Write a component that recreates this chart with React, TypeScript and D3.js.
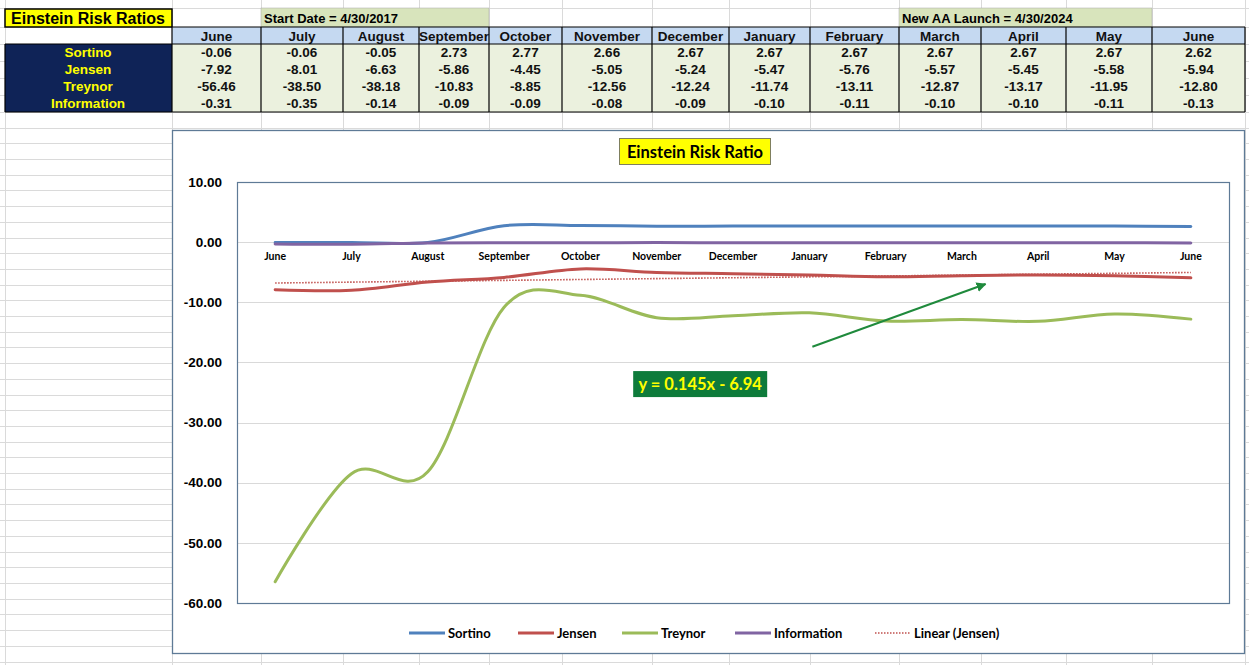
import React from 'react';
import * as d3 from 'd3';

// table + chart data
const months = ['June', 'July', 'August', 'September', 'October', 'November', 'December', 'January', 'February', 'March', 'April', 'May', 'June'];
const sortino = [-0.06, -0.06, -0.05, 2.73, 2.77, 2.66, 2.67, 2.67, 2.67, 2.67, 2.67, 2.67, 2.62];
const jensen = [-7.92, -8.01, -6.63, -5.86, -4.45, -5.05, -5.24, -5.47, -5.76, -5.57, -5.45, -5.58, -5.94];
const treynor = [-56.46, -38.5, -38.18, -10.83, -8.85, -12.56, -12.24, -11.74, -13.11, -12.87, -13.17, -11.95, -12.8];
const information = [-0.31, -0.35, -0.14, -0.09, -0.09, -0.08, -0.09, -0.1, -0.11, -0.1, -0.1, -0.11, -0.13];
const yTicks = [10, 0, -10, -20, -30, -40, -50, -60];

const seriesNames = ['Sortino', 'Jensen', 'Treynor', 'Information'];
const seriesValues = [sortino, jensen, treynor, information];
const seriesColors = ['#4F81BD', '#C0504D', '#9BBB59', '#8064A2'];

// spreadsheet layout
const colEdges = [5, 172, 261, 343, 419, 489, 562, 652, 729, 810, 899, 981, 1066, 1152, 1245];
const rowEdges = [8, 27, 44, 61, 78, 95, 112];

const tableFont = '"Liberation Sans", Arial, sans-serif';
const chartFont = 'Lato, "Open Sans", sans-serif';

// plot area
const plot = { left: 237, right: 1229, top: 182, bottom: 603 };

// annotation in data coordinates (category index, value)
const arrowFrom = [7.04, -17.4];
const arrowTo = [9.31, -6.97];
const eqPos = [5.57, -23.6];
const eqText = 'y = 0.145x - 6.94';

const App: React.FC = () => {
  const x = d3
    .scalePoint<number>()
    .domain(d3.range(months.length))
    .range([plot.left, plot.right])
    .padding(0.5);
  const xc = (i: number) => (x(0) as number) + i * x.step();
  const y = d3.scaleLinear().domain([-60, 10]).range([plot.bottom, plot.top]);

  const line = d3
    .line<number>()
    .x((_, i) => x(i) as number)
    .y((d) => y(d))
    .curve(d3.curveCatmullRom.alpha(0));

  // linear trend of Jensen
  const n = jensen.length;
  const xs = d3.range(1, n + 1);
  const mx = d3.mean(xs) as number;
  const my = d3.mean(jensen) as number;
  const slope =
    d3.sum(xs, (v, i) => (v - mx) * (jensen[i] - my)) / d3.sum(xs, (v) => (v - mx) * (v - mx));
  const intercept = my - slope * mx;
  const trend = xs.map((v) => slope * v + intercept);

  // spreadsheet gridlines
  const gridRows: number[] = [...rowEdges];
  for (let yy = 112 + 15.7; yy < 665; yy += 15.7) gridRows.push(yy);

  const legendItems = [
    { name: 'Sortino', color: seriesColors[0], x: 409, dash: '' },
    { name: 'Jensen', color: seriesColors[1], x: 518, dash: '' },
    { name: 'Treynor', color: seriesColors[2], x: 622, dash: '' },
    { name: 'Information', color: seriesColors[3], x: 735, dash: '' },
    { name: 'Linear (Jensen)', color: seriesColors[1], x: 875, dash: '1.5 1.5' },
  ];

  const ax0 = xc(arrowFrom[0]);
  const ay0 = y(arrowFrom[1]);
  const ax1 = xc(arrowTo[0]);
  const ay1 = y(arrowTo[1]);

  return (
    <svg
      width={1249}
      height={665}
      style={{ position: 'absolute', left: 0, top: 0, background: '#fff' }}
    >
      {/* sheet gridlines */}
      <g stroke="#DADADA" strokeWidth={1}>
        {gridRows.map((r, i) => (
          <line key={'r' + i} x1={0} x2={1249} y1={Math.round(r) + 0.5} y2={Math.round(r) + 0.5} />
        ))}
        {colEdges.map((c, i) => (
          <line key={'c' + i} x1={c + 0.5} x2={c + 0.5} y1={0} y2={665} />
        ))}
      </g>

      {/* title cells */}
      <rect x={5} y={9} width={167} height={18} fill="#FFFF00" stroke="#000" strokeWidth={1.5} />
      <text x={88} y={23.5} textAnchor="middle" fontFamily={tableFont} fontWeight="bold" fontSize={16}>
        Einstein Risk Ratios
      </text>
      <rect x={261} y={8} width={228} height={19} fill="#D8E4BC" stroke="#A6A6A6" strokeWidth={0.5} />
      <text x={264} y={22.5} fontFamily={tableFont} fontWeight="bold" fontSize={13}>
        Start Date = 4/30/2017
      </text>
      <rect x={899} y={8} width={253} height={19} fill="#D8E4BC" stroke="#A6A6A6" strokeWidth={0.5} />
      <text x={902} y={22.5} fontFamily={tableFont} fontWeight="bold" fontSize={13}>
        New AA Launch = 4/30/2024
      </text>

      {/* header row */}
      <rect x={172} y={27} width={1073} height={17} fill="#C5D9F1" />
      {/* data block */}
      <rect x={172} y={44} width={1073} height={68} fill="#EBF1DE" />
      <rect x={5} y={44} width={167} height={68} fill="#0F2357" />
      {months.map((m, i) => (
        <text
          key={'h' + i}
          x={(colEdges[i + 1] + colEdges[i + 2]) / 2}
          y={40.5}
          textAnchor="middle"
          fontFamily={tableFont}
          fontWeight="bold"
          fontSize={13.5}
          fill="#111"
        >
          {m}
        </text>
      ))}
      {seriesNames.map((s, r) => (
        <g key={'row' + r}>
          <text
            x={88}
            y={rowEdges[r + 2] + 13}
            textAnchor="middle"
            fontFamily={tableFont}
            fontWeight="bold"
            fontSize={13.5}
            fill="#FFFF00"
          >
            {s}
          </text>
          {seriesValues[r].map((v, i) => (
            <text
              key={i}
              x={(colEdges[i + 1] + colEdges[i + 2]) / 2}
              y={rowEdges[r + 2] + 13}
              textAnchor="middle"
              fontFamily={tableFont}
              fontWeight="bold"
              fontSize={13.5}
              fill="#111"
            >
              {v.toFixed(2)}
            </text>
          ))}
        </g>
      ))}
      <g stroke="#000" strokeWidth={1.2} fill="none">
        {colEdges.slice(1).map((c, i) => (
          <line key={i} x1={c} x2={c} y1={27} y2={112} />
        ))}
        <line x1={172} x2={1245} y1={27} y2={27} />
        <line x1={172} x2={1245} y1={44} y2={44} />
        <line x1={5} x2={1245} y1={112} y2={112} />
        <line x1={5} x2={5} y1={44} y2={112} />
        <line x1={5} x2={172} y1={44} y2={44} />
      </g>

      {/* chart frame */}
      <rect x={172.5} y={130.5} width={1072} height={523} fill="#fff" stroke="#5E7A96" strokeWidth={1.3} />

      {/* chart title */}
      <rect x={619.5} y={138.5} width={151} height={26} fill="#FFFF00" stroke="#7F7F5F" strokeWidth={1} />
      <text x={695} y={157.5} textAnchor="middle" fontFamily={chartFont} fontWeight="bold" fontSize={16.5}>
        Einstein Risk Ratio
      </text>

      {/* gridlines */}
      <g stroke="#D9D9D9" strokeWidth={1}>
        {yTicks
          .filter((t) => t !== 10 && t !== -60)
          .map((t) => (
            <line key={t} x1={plot.left} x2={plot.right} y1={Math.round(y(t)) + 0.5} y2={Math.round(y(t)) + 0.5} />
          ))}
      </g>
      <rect
        x={plot.left + 0.5}
        y={plot.top + 0.5}
        width={plot.right - plot.left}
        height={plot.bottom - plot.top}
        fill="none"
        stroke="#5E7A96"
        strokeWidth={1.2}
      />

      {/* y tick labels */}
      {yTicks.map((t) => (
        <text
          key={t}
          x={222}
          y={y(t)}
          dy="0.35em"
          textAnchor="end"
          fontFamily={tableFont}
          fontWeight="bold"
          fontSize={13.5}
          fill="#000"
        >
          {t.toFixed(2)}
        </text>
      ))}

      {/* category labels */}
      {months.map((m, i) => (
        <text
          key={'x' + i}
          x={x(i) as number}
          y={y(0) + 18}
          textAnchor="middle"
          fontFamily={chartFont}
          fontWeight="bold"
          fontSize={10.5}
          fill="#000"
        >
          {m}
        </text>
      ))}

      {/* series */}
      {seriesValues.map((vals, i) => (
        <path
          key={seriesNames[i]}
          d={line(vals) as string}
          fill="none"
          stroke={seriesColors[i]}
          strokeWidth={3}
          strokeLinecap="round"
        />
      ))}
      <path
        d={d3.line<number>().x((_, i) => x(i) as number).y((d) => y(d))(trend) as string}
        fill="none"
        stroke={seriesColors[1]}
        strokeWidth={1.6}
        strokeDasharray="1.5 1.5"
      />

      {/* annotation */}
      <defs>
        <marker id="ah" viewBox="0 0 10 10" refX={9} refY={5} markerWidth={5} markerHeight={5} orient="auto">
          <path d="M0,0 L10,5 L0,10 z" fill="#1F8A3C" />
        </marker>
      </defs>
      <line x1={ax0} y1={ay0} x2={ax1} y2={ay1} stroke="#1F8A3C" strokeWidth={2} markerEnd="url(#ah)" />
      <rect x={xc(eqPos[0]) - 67} y={y(eqPos[1]) - 13} width={134} height={26} fill="#0E7B3B" />
      <text
        x={xc(eqPos[0])}
        y={y(eqPos[1])}
        dy="0.36em"
        textAnchor="middle"
        fontFamily={chartFont}
        fontWeight="bold"
        fontSize={16.5}
        fill="#FFFF00"
      >
        {eqText}
      </text>

      {/* legend */}
      {legendItems.map((l) => (
        <g key={l.name}>
          <line
            x1={l.x}
            x2={l.x + 36}
            y1={633}
            y2={633}
            stroke={l.color}
            strokeWidth={l.dash ? 1.5 : 3}
            strokeDasharray={l.dash || undefined}
          />
          <text x={l.x + 39} y={633} dy="0.35em" fontFamily={chartFont} fontWeight="bold" fontSize={13} fill="#000">
            {l.name}
          </text>
        </g>
      ))}
    </svg>
  );
};

export default App;
